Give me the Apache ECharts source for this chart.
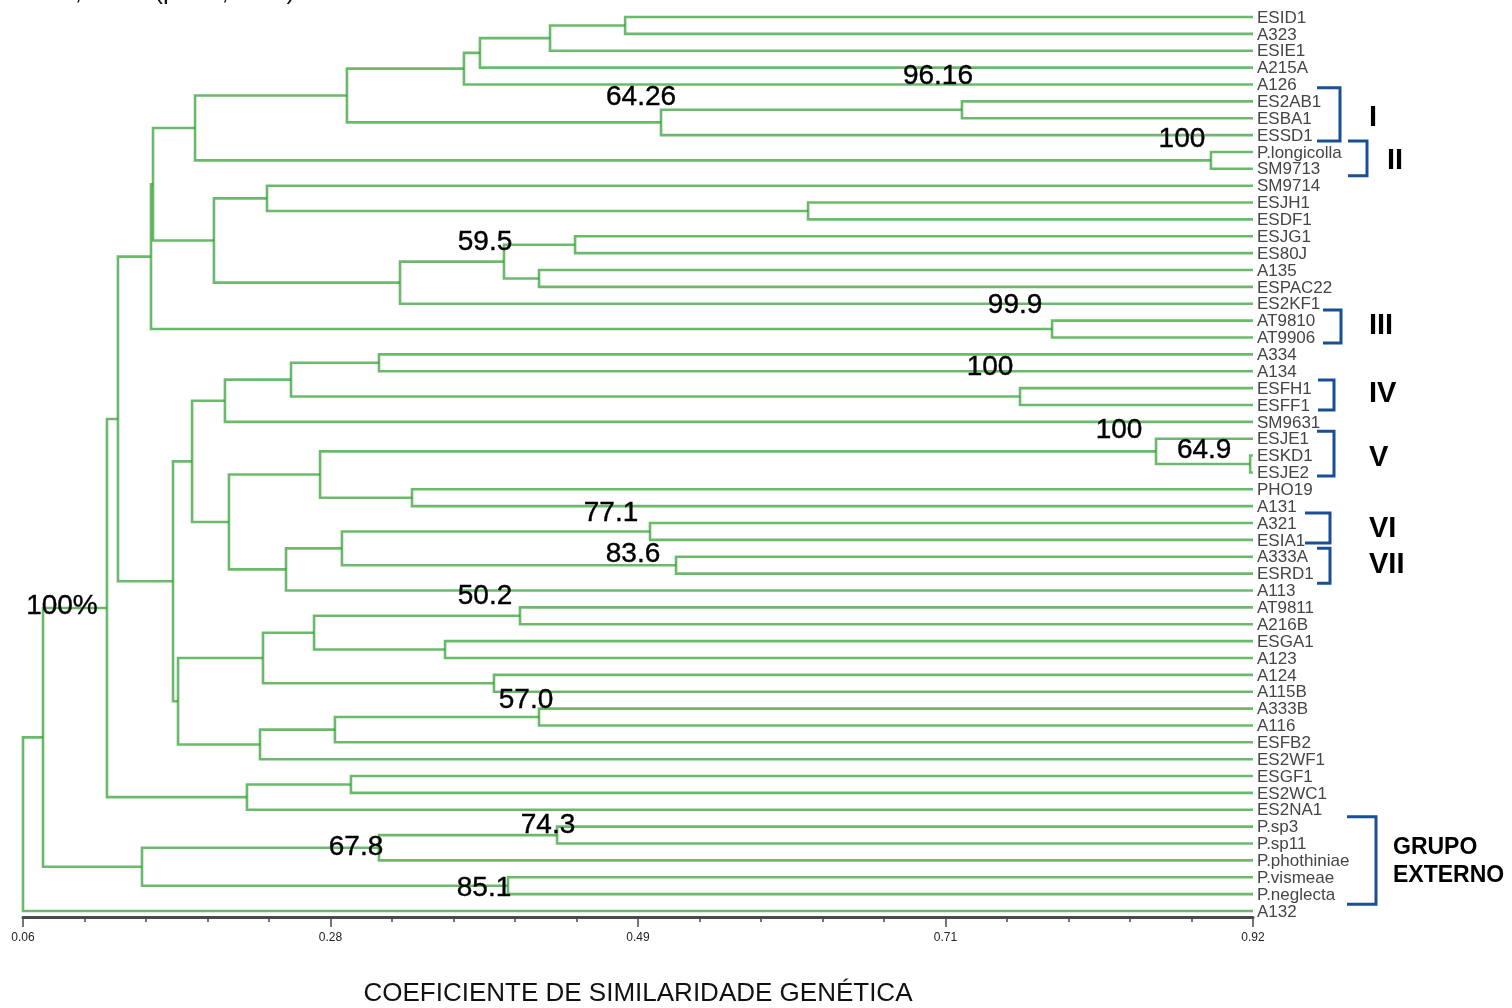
<!DOCTYPE html>
<html>
<head>
<meta charset="utf-8">
<script src="https://cdn.jsdelivr.net/npm/echarts@6/dist/echarts.min.js"></script>
<style>
html,body{margin:0;padding:0;background:#ffffff;}
#chart{width:1512px;height:1008px;}
</style>
</head>
<body>
<div id="chart"></div>
<script>
// ---------------- DATA ----------------
const leaves = ['ESID1','A323','ESIE1','A215A','A126','ES2AB1','ESBA1','ESSD1','P.longicolla','SM9713',
  'SM9714','ESJH1','ESDF1','ESJG1','ES80J','A135','ESPAC22','ES2KF1','AT9810','AT9906',
  'A334','A134','ESFH1','ESFF1','SM9631','ESJE1','ESKD1','ESJE2','PHO19','A131',
  'A321','ESIA1','A333A','ESRD1','A113','AT9811','A216B','ESGA1','A123','A124',
  'A115B','A333B','A116','ESFB2','ES2WF1','ESGF1','ES2WC1','ES2NA1','P.sp3','P.sp11',
  'P.phothiniae','P.vismeae','P.neglecta','A132'];

const leafLevel = 0.92;

// linkage: node id of merge k is leaves.length + k
const mergeLeft  = [0,54,55,56,5,58,57,8,60,11,10,13,15,65,67,64,62,18,70,20,22,73,75,26,25,28,78,30,32,81,83,80,76,35,37,87,39,89,41,92,93,91,86,72,45,98,97,48,101,51,102,100,105];
const mergeRight = [1,2,3,4,6,7,59,9,61,12,63,14,16,66,17,68,69,19,71,21,23,74,24,27,77,29,79,31,33,82,34,84,85,36,38,88,40,90,42,43,44,94,95,96,46,47,99,49,50,52,103,104,53];
const mergeSimilarity = [0.481,0.4285,0.3795,0.3683,0.7165,0.5061,0.2865,0.8906,0.1803,0.6089,
  0.2306,0.4460,0.4208,0.3963,0.3236,0.1935,0.1509,0.7795,0.1495,0.3089,
  0.7571,0.2474,0.2012,0.918,0.8522,0.3320,0.2677,0.4984,0.5166,0.2830,
  0.2439,0.2040,0.1782,0.4075,0.3551,0.2635,0.3893,0.2278,0.4208,0.2781,
  0.2257,0.1684,0.1649,0.1264,0.2893,0.2166,0.1187,0.4334,0.3089,0.3991,
  0.1432,0.0740,0.06];

// support values attached to merges
const supportNode = [4,5,7,13,17,20,24,23,27,28,33,38,47,48,49,46];
const supportText = ['96.16','64.26','100','59.5','99.9','100','100','64.9','77.1','83.6','50.2','57.0','74.3','67.8','85.1','100%'];

// groups (first leaf index, last leaf index)
const groupNames = ['I','II','III','IV','V','VI','VII','GRUPO\nEXTERNO'];
const groupFirst = [5,8,18,22,25,30,32,48];
const groupLast  = [7,9,19,23,27,31,33,52];

const tickLabels = ['0.06','0.28','0.49','0.71','0.92'];
const axisTitle = 'COEFICIENTE DE SIMILARIDADE GENÉTICA';
const topNote = 'r = 0,8758  (p = 0,0001)';

// ---------------- LAYOUT / STYLE ----------------
const supportOffset = [[-24,-33],[-20,-25],[-29,-21],[-19,-19.5],[-37,-23.5],[-30,-29.5],[-37,-21],[-46,-13.5],
  [-39,-18.5],[-43,-10.5],[-35,-19.5],[-13,-16.5],[-9,-9.5],[-23,0],[-24,2.5],[-45,-2]];
const bracketVX = [87,114,88,81,81,77,77,123];
const bracketLX = [64,95,70,65,64,52,64,94];
const bracketPad = [[-13.5,6],[-11,7],[-10.5,5.5],[-8,5],[-7.5,3.5],[-10,3],[-8.5,9.5],[-10,10]];
const groupLabelX = [116,134,116,116,116,116,116,140];
const groupLabelDy = [0,1,-3.5,-2.5,2,-2.5,0,1.5];

const FONT = "'Liberation Sans', Arial, Helvetica, sans-serif";
const NARROW = "'Liberation Sans Narrow', 'Arial Narrow', 'Liberation Sans', sans-serif";
const TREE_COLOR = 'rgba(50,160,50,0.72)';
const BRACKET_COLOR = '#1b4f93';

// ---------------- BUILD ----------------
const n = leaves.length;
const nodeX = [], nodeY = [];
for (let i = 0; i < n; i++) { nodeX.push(leafLevel); nodeY.push(i); }
const treeData = [];
for (let k = 0; k < mergeLeft.length; k++) {
  const a = mergeLeft[k], b = mergeRight[k];
  nodeX.push(mergeSimilarity[k]);
  nodeY.push((nodeY[a] + nodeY[b]) / 2);
  treeData.push([nodeX[a], nodeY[a], nodeX[b], nodeY[b], mergeSimilarity[k]]);
}
const leafData = leaves.map((_, i) => [leafLevel, i]);
const supportData = supportNode.map(k => [nodeX[n + k], nodeY[n + k]]);
const groupData = groupFirst.map((f, i) => [leafLevel, f, groupLast[i]]);

const chart = echarts.init(document.getElementById('chart'), null, {renderer: 'canvas'});

const option = {
  animation: false,
  backgroundColor: '#ffffff',
  grid: {left: 23, right: 259, top: 17, bottom: 97, containLabel: false, outerBoundsMode: 'none'},
  xAxis: [
    {type: 'value', min: 0.06, max: 0.92, show: false, position: 'top'},
    {type: 'value', min: 0, max: 20, interval: 1, position: 'bottom', offset: 6,
      axisLine: {show: true, onZero: false, lineStyle: {color: '#4a4a4a', width: 3}},
      axisTick: {show: true, length: 5, lineStyle: {color: '#4a4a4a', width: 1.5}},
      axisLabel: {show: false}, splitLine: {show: false}},
    {type: 'value', min: 0, max: 20, interval: 5, position: 'bottom', offset: 6,
      axisLine: {show: false, onZero: false},
      axisTick: {show: true, length: 10, lineStyle: {color: '#4a4a4a', width: 1.5}},
      axisLabel: {show: true, margin: 15, fontSize: 12, color: '#222', fontFamily: NARROW,
        formatter: v => tickLabels[Math.round(v / 5)]},
      splitLine: {show: false},
      name: axisTitle, nameLocation: 'middle', nameGap: 64,
      nameTextStyle: {fontSize: 26, color: '#111', fontFamily: FONT}}
  ],
  yAxis: {type: 'value', min: 0, max: n - 1, inverse: true, show: false},
  graphic: [{type: 'text', left: 22, top: -21, silent: true,
    style: {text: topNote, font: '26px ' + FONT, fill: '#111'}}],
  series: [
    {type: 'custom', name: 'tree', xAxisIndex: 0, yAxisIndex: 0, silent: true,
      data: treeData, encode: {x: [0, 2, 4], y: [1, 3]},
      renderItem: function (params, api) {
        const pA = api.coord([api.value(0), api.value(1)]);
        const pB = api.coord([api.value(2), api.value(3)]);
        const xN = api.coord([api.value(4), api.value(1)])[0];
        return {type: 'polyline',
          shape: {points: [pA, [xN, pA[1]], [xN, pB[1]], pB]},
          style: {stroke: TREE_COLOR, lineWidth: 2.6, fill: null}};
      }},
    {type: 'custom', name: 'leaves', xAxisIndex: 0, yAxisIndex: 0, silent: true,
      data: leafData, encode: {x: 0, y: 1},
      renderItem: function (params, api) {
        const p = api.coord([api.value(0), api.value(1)]);
        return {type: 'text', x: p[0] + 4, y: p[1] + 1,
          style: {text: leaves[params.dataIndex], font: '17px ' + FONT, fill: '#454545',
            align: 'left', verticalAlign: 'middle'}};
      }},
    {type: 'custom', name: 'support', xAxisIndex: 0, yAxisIndex: 0, silent: true,
      data: supportData, encode: {x: 0, y: 1},
      renderItem: function (params, api) {
        const p = api.coord([api.value(0), api.value(1)]);
        const o = supportOffset[params.dataIndex];
        return {type: 'text', x: p[0] + o[0], y: p[1] + o[1],
          style: {text: supportText[params.dataIndex], font: '28px ' + FONT, fill: '#000',
            stroke: '#000', lineWidth: 0.4, align: 'center', verticalAlign: 'middle'}};
      }},
    {type: 'custom', name: 'groups', xAxisIndex: 0, yAxisIndex: 0, silent: true,
      data: groupData, encode: {x: 0, y: [1, 2]},
      renderItem: function (params, api) {
        const i = params.dataIndex;
        const p1 = api.coord([api.value(0), api.value(1)]);
        const p2 = api.coord([api.value(0), api.value(2)]);
        const vx = p1[0] + bracketVX[i], lx = p1[0] + bracketLX[i];
        const y1 = p1[1] + bracketPad[i][0], y2 = p2[1] + bracketPad[i][1];
        const multi = groupNames[i].indexOf('\n') >= 0;
        return {type: 'group', children: [
          {type: 'polyline', shape: {points: [[lx, y1], [vx, y1], [vx, y2], [lx, y2]]},
            style: {stroke: BRACKET_COLOR, lineWidth: 3, fill: null}},
          {type: 'text', x: p1[0] + groupLabelX[i], y: (p1[1] + p2[1]) / 2 + groupLabelDy[i],
            style: {text: groupNames[i], font: 'bold ' + (multi ? 23 : 29) + 'px ' + FONT,
              lineHeight: multi ? 28 : 32, fill: '#000', align: 'left', verticalAlign: 'middle'}}
        ]};
      }}
  ]
};
chart.setOption(option);
</script>
</body>
</html>
